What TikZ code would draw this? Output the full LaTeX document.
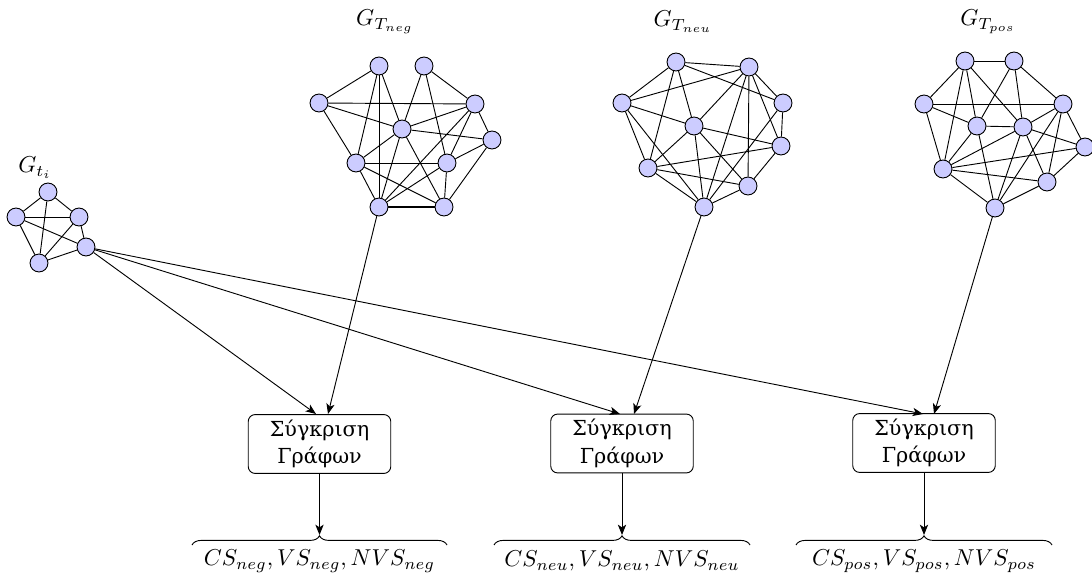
\documentclass[tikz,border=0pt]{standalone}
\usepackage{fontspec}
\newfontfamily\grfont[Script=Greek]{DejaVu Serif}
\usetikzlibrary{decorations.pathreplacing,calc,arrows.meta}
\begin{document}
\begin{tikzpicture}[x=0.435pt,y=-0.435pt,
  vtx/.style={circle,draw,fill=blue!20,minimum size=7.8pt,inner sep=0pt},
  cmpbox/.style={draw,rounded corners=3pt,minimum width=62pt,minimum height=25.6pt,align=center,font=\grfont\fontsize{9}{12}\selectfont,inner sep=2pt},
  arr/.style={-{Stealth[length=4.5pt,width=3.6pt,inset=1.2pt]}},
  brc/.style={decorate,decoration={brace,amplitude=4pt}},
  lbl/.style={inner sep=0pt}]
\useasboundingbox (0,0) rectangle (1092,579);
% G_ti
\foreach \n/\x/\y in {s1/48/192,s2/16/217,s3/79/217,s4/86/247,s5/39/263}
  \node[vtx] (\n) at (\x,\y) {};
% G_Tneg
\foreach \n/\x/\y in {a1/379/66,a2/424/66,a3/319/103,a4/475/104,a5/402/129,a6/492/140,a7/356/163,a8/447/163,a9/379/207,a10/444/207}
  \node[vtx] (\n) at (\x,\y) {};
% G_Tneu
\foreach \n/\x/\y in {u1/676/62,u2/749/67,u3/622/103,u4/783/103,u5/694/126,u6/781/146,u7/648/168,u8/748/186,u9/704/207}
  \node[vtx] (\n) at (\x,\y) {};
% G_Tpos
\foreach \n/\x/\y in {p1/965/61,p2/1014/61,p3/924/104,p4/1063/104,p5/977/126,p6/1023/127,p7/1085/147,p8/943/169,p9/1047/182,p10/995/208}
  \node[vtx] (\n) at (\x,\y) {};
% edges
\foreach \a/\b in {s1/s2,s1/s3,s1/s5,s2/s3,s2/s4,s2/s5,s3/s4,s3/s5,s4/s5,
  a1/a3,a1/a5,a1/a7,a1/a9,a2/a5,a2/a8,a2/a4,a3/a4,a3/a5,a3/a7,a4/a5,a4/a6,a4/a8,a4/a9,a5/a6,a5/a7,a5/a9,a5/a10,a6/a8,a6/a10,a7/a8,a7/a9,a7/a10,a8/a9,a8/a10,
  u1/u2,u1/u3,u1/u5,u1/u7,u1/u4,u2/u3,u2/u5,u2/u8,u2/u9,u2/u4,u2/u6,u3/u5,u3/u7,u3/u9,u4/u6,u4/u9,u5/u6,u5/u8,u5/u9,u5/u7,u6/u7,u6/u8,u7/u8,u7/u9,u8/u9,
  p1/p2,p1/p3,p1/p5,p1/p8,p1/p6,p2/p5,p2/p6,p2/p4,p3/p4,p3/p5,p3/p8,p4/p6,p4/p7,p4/p9,p4/p10,p5/p6,p5/p8,p5/p10,p6/p7,p6/p8,p6/p9,p6/p10,p7/p8,p7/p9,p8/p9,p8/p10,p9/p10}
  \draw (\a) -- (\b);
\draw[line width=0.8pt] (a9) -- (a10);
% labels
\node[lbl] (lti) at (35,168) {$G_{t_i}$};
\node[lbl] (lneg) at (385,22) {$G_{T_{neg}}$};
\node[lbl] (lneu) at (683,22) {$G_{T_{neu}}$};
\node[lbl] (lpos) at (988,22) {$G_{T_{pos}}$};
% boxes
\node[cmpbox] (b1) at (319.5,444) {Σύγκριση\\Γράφων};
\node[cmpbox] (b2) at (622,443.5) {Σύγκριση\\Γράφων};
\node[cmpbox] (b3) at (924,443) {Σύγκριση\\Γράφων};
\coordinate (c1a) at (316,414);
\coordinate (c1b) at (328,414);
\coordinate (c2a) at (620,414);
\coordinate (c2b) at (634,414);
\coordinate (c3a) at (923,414);
\coordinate (c3b) at (934,414);
\draw[arr] (s4) -- (c1a);
\draw[arr] (s4) -- (c2a);
\draw[arr] (s4) -- (c3a);
\draw[arr] (a9) -- (c1b);
\draw[arr] (u9) -- (c2b);
\draw[arr] (p10) -- (c3b);
% braces
\coordinate (bl1) at (192,545); \coordinate (br1) at (447,545);
\coordinate (bl2) at (494,545); \coordinate (br2) at (750,545);
\coordinate (bl3) at (796,545); \coordinate (br3) at (1052,545);
\coordinate (t1) at (319.5,535);
\coordinate (t2) at (622,535);
\coordinate (t3) at (924,535);
\draw[brc] (bl1) -- (br1);
\draw[brc] (bl2) -- (br2);
\draw[brc] (bl3) -- (br3);
\draw[arr] (b1.south) -- (t1);
\draw[arr] (b2.south) -- (t2);
\draw[arr] (b3.south) -- (t3);
\node (r1) at (319.5,561) {$CS_{neg}, VS_{neg}, NVS_{neg}$};
\node (r2) at (622,561) {$CS_{neu}, VS_{neu}, NVS_{neu}$};
\node (r3) at (924,561) {$CS_{pos}, VS_{pos}, NVS_{pos}$};
\end{tikzpicture}
\end{document}
